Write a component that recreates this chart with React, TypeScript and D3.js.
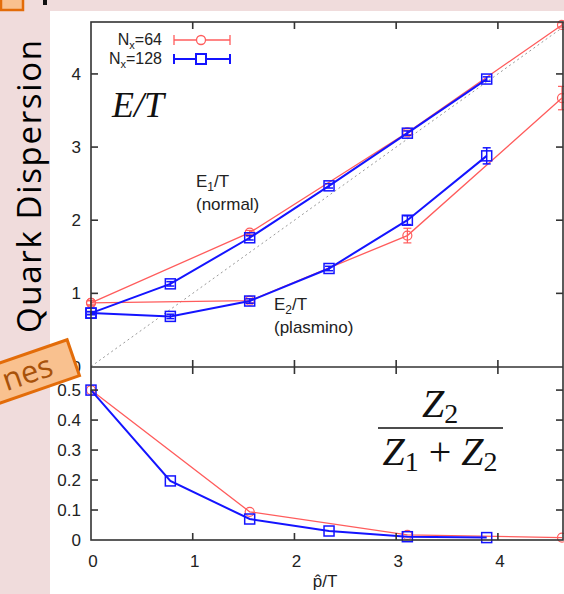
import React from "react";
import * as d3 from "d3";

// momentum values (p-hat / T) for the two lattices
const pBlue = [0, 0.78, 1.56, 2.34, 3.11, 3.89];
const pRed = [0, 1.56, 3.11, 4.63];

// E/T, normal branch
const e1Blue = [0.73, 1.13, 1.76, 2.47, 3.19, 3.93];
const e1BlueErr = [0.02, 0.03, 0.03, 0.03, 0.03, 0.03];
const e1Red = [0.87, 1.83, 3.2, 4.67];
const e1RedErr = [0.03, 0.03, 0.03, 0.03];

// E/T, plasmino branch
const e2Blue = [0.73, 0.685, 0.895, 1.34, 2.0, 2.88];
const e2BlueErr = [0.02, 0.03, 0.03, 0.03, 0.06, 0.11];
const e2Red = [0.87, 0.9, 1.79, 3.67];
const e2RedErr = [0.03, 0.03, 0.1, 0.16];

// residue ratio Z2/(Z1+Z2)
const zBlue = [0.5, 0.197, 0.07, 0.03, 0.011, 0.008];
const zRed = [0.5, 0.094, 0.017, 0.008];

const topTicks = [0, 1, 2, 3, 4];
const botTicks = [0, 0.1, 0.2, 0.3, 0.4, 0.5];
const xTicks = [0, 1, 2, 3, 4];

const RED = "#ff5c5c";
const BLUE = "#1414ff";
const AX = "#333";
const sans = "'Liberation Sans', Arial, sans-serif";
const serif = "'Liberation Serif', 'DejaVu Serif', serif";

export default function App() {
  const x = d3.scaleLinear().domain([0, 4.64]).range([91, 563]);
  const yT = d3.scaleLinear().domain([0, 4.71]).range([366.5, 22]);
  const yB = d3.scaleLinear().domain([0, 0.577]).range([540, 367]);

  const line = (xs: number[], ys: number[], y: d3.ScaleLinear<number, number>) =>
    d3.line<number>().x((_, i) => x(xs[i])).y((v) => y(v))(ys) || "";

  const series = (
    xs: number[],
    ys: number[],
    errs: number[] | null,
    y: d3.ScaleLinear<number, number>,
    color: string,
    kind: "circle" | "square",
    key: string
  ) => (
    <g key={key}>
      <path d={line(xs, ys, y)} fill="none" stroke={color} strokeWidth={kind === "square" ? 2 : 1.3} />
      {ys.map((v, i) => {
        const cx = x(xs[i]);
        const cy = y(v);
        const e = errs ? errs[i] : 0;
        const lo = y(v - e);
        const hi = y(v + e);
        return (
          <g key={i} stroke={color} fill="none" strokeWidth={kind === "square" ? 1.5 : 1.2}>
            {errs && (
              <>
                <line x1={cx} x2={cx} y1={lo} y2={hi} />
                <line x1={cx - 4} x2={cx + 4} y1={lo} y2={lo} />
                <line x1={cx - 4} x2={cx + 4} y1={hi} y2={hi} />
              </>
            )}
            {kind === "circle" ? (
              <circle cx={cx} cy={cy} r={4.5} />
            ) : (
              <rect x={cx - 5} y={cy - 5} width={10} height={10} />
            )}
          </g>
        );
      })}
    </g>
  );

  const legendRow = (label: string, y: number, color: string, kind: "circle" | "square") => (
    <g>
      <text x={162} y={y + 5} textAnchor="end" fontFamily={sans} fontSize={16} fill="#222">
        N<tspan dy={4} fontSize={11}>x</tspan>
        <tspan dy={-4}>={label}</tspan>
      </text>
      <g stroke={color} strokeWidth={kind === "square" ? 2 : 1.3} fill="none">
        <line x1={174} x2={230} y1={y} y2={y} />
        <line x1={174} x2={174} y1={y - 5} y2={y + 5} />
        <line x1={230} x2={230} y1={y - 5} y2={y + 5} />
        {kind === "circle" ? (
          <circle cx={201} cy={y} r={4.5} fill="white" />
        ) : (
          <rect x={196} y={y - 5} width={10} height={10} fill="white" />
        )}
      </g>
    </g>
  );

  const botFmt = (t: number) => (t === 0 ? "0" : d3.format(".1f")(t));

  return (
    <svg width={564} height={594} style={{ position: "absolute", left: 0, top: 0 }}>
      <rect x={0} y={0} width={564} height={594} fill="#f0dcdc" />
      <rect x={50} y={11} width={514} height={583} fill="#fff" />
      <rect x={1} y={-3} width={22} height={13} fill="#f9c18f" stroke="#e36c09" strokeWidth={2.5} />
      <rect x={43} y={0} width={4} height={5} fill="#111" />

      {/* y = x guide */}
      <line x1={x(0)} y1={yT(0)} x2={x(4.64)} y2={yT(4.64)} stroke="#999" strokeWidth={1} strokeDasharray="2,3" />

      {series(pRed, e1Red, e1RedErr, yT, RED, "circle", "r1")}
      {series(pRed, e2Red, e2RedErr, yT, RED, "circle", "r2")}
      {series(pBlue, e1Blue, e1BlueErr, yT, BLUE, "square", "b1")}
      {series(pBlue, e2Blue, e2BlueErr, yT, BLUE, "square", "b2")}
      {series(pRed, zRed, null, yB, RED, "circle", "rz")}
      {series(pBlue, zBlue, null, yB, BLUE, "square", "bz")}

      {/* frames */}
      <g stroke={AX} strokeWidth={1.6} fill="none">
        <rect x={91} y={22} width={472} height={518} />
        <line x1={91} x2={563} y1={367} y2={367} />
        {xTicks.slice(1).map((t) => (
          <g key={t}>
            <line x1={x(t)} x2={x(t)} y1={22} y2={29} />
            <line x1={x(t)} x2={x(t)} y1={360} y2={374} />
            <line x1={x(t)} x2={x(t)} y1={540} y2={533} />
          </g>
        ))}
        {topTicks.slice(1).map((t) => (
          <g key={t}>
            <line x1={91} x2={98} y1={yT(t)} y2={yT(t)} />
            <line x1={563} x2={556} y1={yT(t)} y2={yT(t)} />
          </g>
        ))}
        {botTicks.slice(1).map((t) => (
          <g key={t}>
            <line x1={91} x2={98} y1={yB(t)} y2={yB(t)} />
            <line x1={563} x2={556} y1={yB(t)} y2={yB(t)} />
          </g>
        ))}
      </g>

      <g fontFamily={sans} fontSize={17} fill="#222">
        {topTicks.map((t) => (
          <text key={t} x={81} y={yT(t) + 6} textAnchor="end">{t}</text>
        ))}
        {botTicks.map((t) => (
          <text key={t} x={81} y={yB(t) + 6} textAnchor="end">{botFmt(t)}</text>
        ))}
        {xTicks.map((t) => (
          <text key={t} x={x(t) + 2} y={567} textAnchor="middle">{t}</text>
        ))}
        <text x={325} y={587} textAnchor="middle">{"p\u0302/T"}</text>

        <text x={196} y={187}>
          E<tspan dy={4} fontSize={12}>1</tspan>
          <tspan dy={-4}>/T</tspan>
        </text>
        <text x={196} y={210}>(normal)</text>
        <text x={274} y={310}>
          E<tspan dy={4} fontSize={12}>2</tspan>
          <tspan dy={-4}>/T</tspan>
        </text>
        <text x={274} y={333}>(plasmino)</text>
      </g>

      {legendRow("64", 40, RED, "circle")}
      {legendRow("128", 59, BLUE, "square")}

      <text x={112} y={117} fontFamily={serif} fontStyle="italic" fontSize={36} fill="#111">
        E/T
      </text>

      <g fontFamily={serif} fill="#111">
        <text x={440} y={417} textAnchor="middle" fontSize={40}>
          <tspan fontStyle="italic">Z</tspan>
          <tspan fontSize={28} dy={6}>2</tspan>
        </text>
        <line x1={378} x2={503} y1={428} y2={428} stroke="#111" strokeWidth={1.5} />
        <text x={440} y={465} textAnchor="middle" fontSize={40}>
          <tspan fontStyle="italic">Z</tspan>
          <tspan fontSize={28} dy={6}>1</tspan>
          <tspan dy={-6}> + </tspan>
          <tspan fontStyle="italic">Z</tspan>
          <tspan fontSize={28} dy={6}>2</tspan>
        </text>
      </g>

      <text
        transform="translate(41,333) rotate(-90)"
        fontFamily="'Open Sans', sans-serif"
        fontSize={33}
        fill="#000"
        textLength={293}
      >
        Quark Dispersion
      </text>

      <g transform="translate(26,374) rotate(-19)">
        <rect x={-60} y={-19} width={110} height={38} fill="#f9c18f" stroke="#e36c09" strokeWidth={3} />
        <text x={-24} y={10} fontFamily="'Open Sans', sans-serif" fontSize={31} fill="#a8520a">
          nes
        </text>
      </g>
    </svg>
  );
}
